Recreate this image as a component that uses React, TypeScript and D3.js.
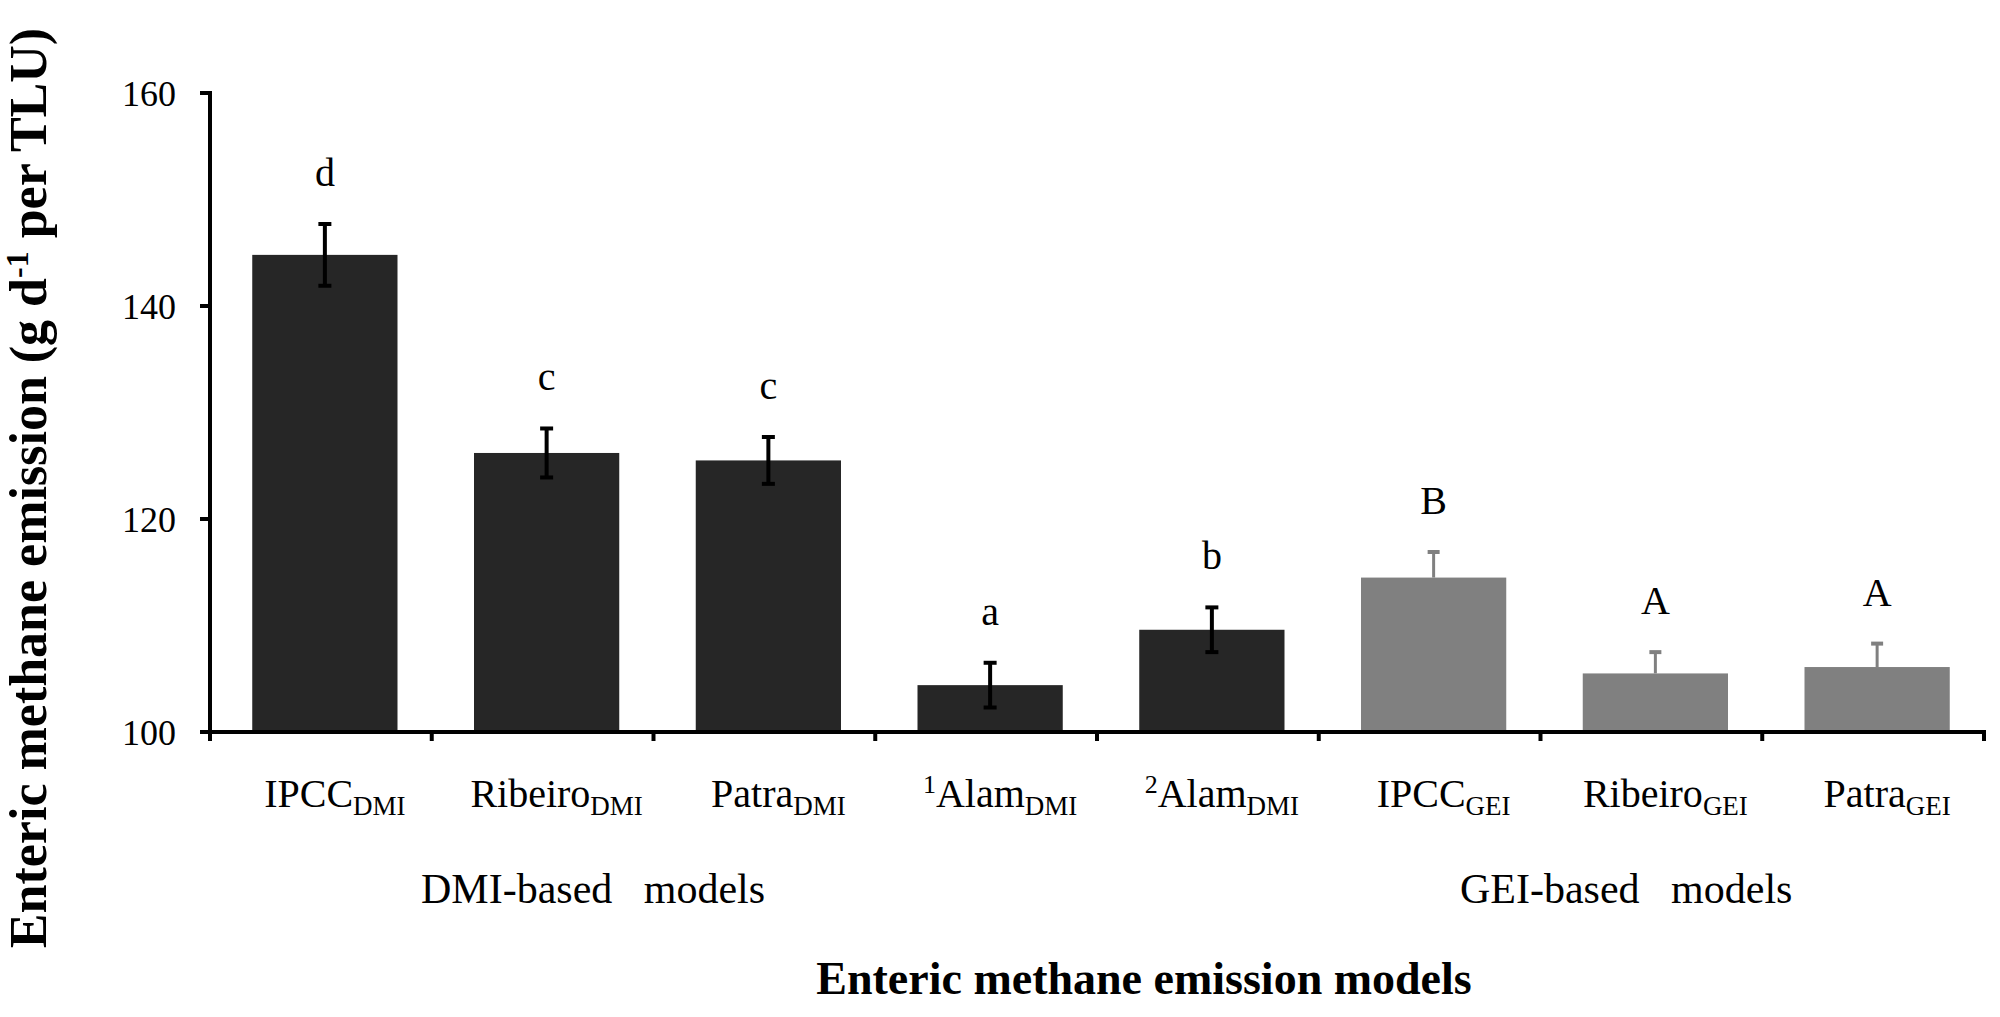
import React from "react";
import * as d3 from "d3";

const models = ["IPCC", "Ribeiro", "Patra", "Alam", "Alam", "IPCC", "Ribeiro", "Patra"];
const prefixSup = ["", "", "", "1", "2", "", "", ""];
const subscripts = ["DMI", "DMI", "DMI", "DMI", "DMI", "GEI", "GEI", "GEI"];
const means = [144.8, 126.2, 125.5, 104.4, 109.6, 114.5, 105.5, 106.1];
const errors = [2.9, 2.3, 2.2, 2.1, 2.1, 2.4, 2.0, 2.2];
const letters = ["d", "c", "c", "a", "b", "B", "A", "A"];
const groupOf = ["DMI", "DMI", "DMI", "DMI", "DMI", "GEI", "GEI", "GEI"];
const yTicks = [100, 120, 140, 160];
const groupLabels = ["DMI-based\u00A0\u00A0\u00A0models", "GEI-based\u00A0\u00A0\u00A0models"];
const xTitle = "Enteric methane emission models";

const W = 2000;
const H = 1017;
const left = 210;
const right = 1984;
const top = 93;
const bottom = 732;
const FONT = "'Liberation Serif', 'Times New Roman', serif";

export default function App() {
  const idx = models.map((_, i) => i);
  const x = d3
    .scaleBand<number>()
    .domain(idx)
    .range([left + 4, right + 4])
    .paddingInner(0.345)
    .paddingOuter(0.1725);
  const y = d3.scaleLinear().domain([100, 160]).range([bottom, top]);
  const step = (right - left) / models.length;
  const bw = x.bandwidth();
  const boundaries = d3.range(models.length + 1).map((k) => left + k * step);

  return (
    <svg
      width={W}
      height={H}
      style={{ position: "absolute", left: 0, top: 0, background: "#fff" }}
      fontFamily={FONT}
    >
      {/* bars */}
      {idx.map((i) => {
        const gei = groupOf[i] === "GEI";
        const fill = gei ? "#808080" : "#262626";
        const x0 = x(i)!;
        const cx = x0 + bw / 2;
        const yt = y(means[i]);
        const yHi = y(means[i] + errors[i]);
        const yLo = y(means[i] - errors[i]);
        return (
          <g key={i}>
            <rect x={x0} y={yt} width={bw} height={bottom - yt} fill={fill} />
            {gei ? (
              <g stroke="#808080" strokeWidth={3}>
                <line x1={cx} x2={cx} y1={yt} y2={yHi} />
                <line x1={cx - 6} x2={cx + 6} y1={yHi} y2={yHi} strokeWidth={4} />
              </g>
            ) : (
              <g stroke="#000" strokeWidth={4}>
                <line x1={cx} x2={cx} y1={yLo} y2={yHi} />
                <line x1={cx - 6.5} x2={cx + 6.5} y1={yHi} y2={yHi} />
                <line x1={cx - 6.5} x2={cx + 6.5} y1={yLo} y2={yLo} />
              </g>
            )}
            <text x={cx} y={yHi - 38} textAnchor="middle" fontSize={40} fill="#000">
              {letters[i]}
            </text>
          </g>
        );
      })}

      {/* y axis */}
      <line x1={left} x2={left} y1={top - 2} y2={bottom + 8} stroke="#000" strokeWidth={4} />
      {yTicks.map((t) => (
        <g key={t}>
          <line x1={left - 10} x2={left} y1={y(t)} y2={y(t)} stroke="#000" strokeWidth={4} />
          <text
            x={176}
            y={y(t)}
            dy="0.35em"
            textAnchor="end"
            fontSize={36}
            fill="#000"
          >
            {t}
          </text>
        </g>
      ))}

      {/* x axis */}
      <line x1={left - 10} x2={right + 2} y1={bottom} y2={bottom} stroke="#000" strokeWidth={4} />
      {boundaries.map((bx, k) => (
        <line key={k} x1={bx} x2={bx} y1={bottom} y2={bottom + 9} stroke="#000" strokeWidth={4} />
      ))}
      {idx.map((i) => {
        const cx = x(i)! + bw / 2 + 10;
        return (
          <text key={i} x={cx} y={807} textAnchor="middle" fontSize={40} fill="#000">
            {prefixSup[i] ? (
              <tspan fontSize={26} dy={-14}>
                {prefixSup[i]}
              </tspan>
            ) : null}
            <tspan dy={prefixSup[i] ? 14 : 0}>{models[i]}</tspan>
            <tspan fontSize={27} dy={8}>
              {subscripts[i]}
            </tspan>
          </text>
        );
      })}

      {/* group labels */}
      <text x={421} y={903} fontSize={42} fill="#000">
        {groupLabels[0]}
      </text>
      <text x={1460} y={903} fontSize={42} fill="#000">
        {groupLabels[1]}
      </text>

      {/* axis titles */}
      <text x={1144} y={994} textAnchor="middle" fontSize={46} fontWeight="bold" fill="#000">
        {xTitle}
      </text>
      <text
        transform={`translate(46, 488) rotate(-90)`}
        textAnchor="middle"
        fontSize={52}
        fontWeight="bold"
        fill="#000"
      >
        Enteric methane emission (g d
        <tspan fontSize={32} dy={-18}>
          -1
        </tspan>
        <tspan dy={18}> per TLU)</tspan>
      </text>
    </svg>
  );
}
